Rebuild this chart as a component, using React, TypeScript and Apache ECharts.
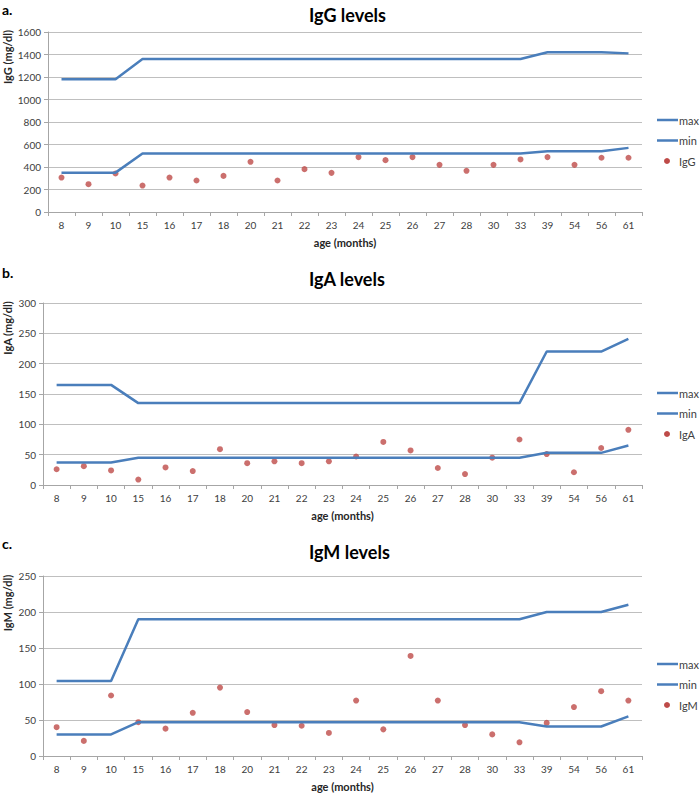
import React, { useEffect, useRef } from "react";
import * as echarts from "echarts";

const ages = ["8", "9", "10", "15", "16", "17", "18", "20", "21", "22", "23", "24", "25", "26", "27", "28", "30", "33", "39", "54", "56", "61"];

const iggMax = [1180, 1180, 1180, 1360, 1360, 1360, 1360, 1360, 1360, 1360, 1360, 1360, 1360, 1360, 1360, 1360, 1360, 1360, 1420, 1420, 1420, 1410];
const iggMin = [350, 350, 350, 520, 520, 520, 520, 520, 520, 520, 520, 520, 520, 520, 520, 520, 520, 520, 540, 540, 540, 570];
const iggVals = [306, 247, 342, 235, 306, 280, 321, 446, 280, 381, 348, 488, 461, 488, 419, 366, 419, 467, 488, 419, 482, 482];

const igaMax = [165, 165, 165, 135, 135, 135, 135, 135, 135, 135, 135, 135, 135, 135, 135, 135, 135, 135, 220, 220, 220, 241];
const igaMin = [37, 37, 37, 45, 45, 45, 45, 45, 45, 45, 45, 45, 45, 45, 45, 45, 45, 45, 53, 53, 53, 65];
const igaVals = [26, 31, 24, 9, 29, 23, 59, 36, 39, 36, 39, 47, 71, 57, 28, 18, 45, 75, 51, 21, 61, 91];

const igmMax = [104, 104, 104, 190, 190, 190, 190, 190, 190, 190, 190, 190, 190, 190, 190, 190, 190, 190, 200, 200, 200, 210];
const igmMin = [30, 30, 30, 47, 47, 47, 47, 47, 47, 47, 47, 47, 47, 47, 47, 47, 47, 47, 41, 41, 41, 55];
const igmVals = [40, 21, 84, 47, 38, 60, 95, 61, 43, 42, 32, 77, 37, 139, 77, 43, 30, 19, 46, 68, 90, 77];

const legendNames = ["max", "min"];

const panels = [
  { letter: "a.", title: "IgG levels", yName: "IgG (mg/dl)", series: "IgG", max: iggMax, min: iggMin, vals: iggVals, yMax: 1600, yInt: 200, left: 48, top: 32, height: 180, titleY: 17, letterY: 10, yNameY: 57, legendY: 120 },
  { letter: "b.", title: "IgA levels", yName: "IgA (mg/dl)", series: "IgA", max: igaMax, min: igaMin, vals: igaVals, yMax: 300, yInt: 50, left: 43, top: 303, height: 182, titleY: 281, letterY: 273, yNameY: 328, legendY: 393 },
  { letter: "c.", title: "IgM levels", yName: "IgM (mg/dl)", series: "IgM", max: igmMax, min: igmMin, vals: igmVals, yMax: 250, yInt: 50, left: 43, top: 576, height: 181, titleY: 554, letterY: 544, yNameY: 603, legendY: 664 },
];

const FONT = "Lato, 'Open Sans', sans-serif";
const BLUE = "#4a7ebb";
const RED = "#be4b48";
const TXT = "#404040";

export default function App() {
  const ref = useRef<HTMLDivElement>(null);
  useEffect(() => {
    if (!ref.current) return;
    const chart = echarts.init(ref.current, undefined, { renderer: "svg" });
    const grid: any[] = [];
    const xAxis: any[] = [];
    const yAxis: any[] = [];
    const series: any[] = [];
    const graphic: any[] = [];
    panels.forEach((p, i) => {
      grid.push({ left: p.left, width: 642 - p.left, top: p.top, height: p.height });
      xAxis.push({
        type: "category",
        gridIndex: i,
        data: ages,
        boundaryGap: true,
        axisLine: { lineStyle: { color: "#a6a6a6" } },
        axisTick: { show: true, length: 4, lineStyle: { color: "#a6a6a6" } },
        axisLabel: { fontSize: 10, color: TXT, fontFamily: FONT, margin: 8, interval: 0 },
        name: "age (months)",
        nameLocation: "middle",
        nameGap: 25,
        nameTextStyle: { fontSize: 11, fontWeight: "bold", color: "#262626", fontFamily: FONT },
      });
      yAxis.push({
        type: "value",
        gridIndex: i,
        min: 0,
        max: p.yMax,
        interval: p.yInt,
        axisLine: { show: true, lineStyle: { color: "#a6a6a6" } },
        axisTick: { show: true, length: 4, lineStyle: { color: "#a6a6a6" } },
        axisLabel: { fontSize: 10, color: TXT, fontFamily: FONT, margin: 7, formatter: (v: number) => String(v) },
        splitLine: { lineStyle: { color: "#bfbfbf", width: 1 } },
      });
      series.push({
        name: "max", type: "line", xAxisIndex: i, yAxisIndex: i, data: p.max,
        symbol: "none", lineStyle: { color: BLUE, width: 2.5 }, itemStyle: { color: BLUE },
      });
      series.push({
        name: "min", type: "line", xAxisIndex: i, yAxisIndex: i, data: p.min,
        symbol: "none", lineStyle: { color: BLUE, width: 2.5 }, itemStyle: { color: BLUE },
      });
      series.push({
        name: p.series, type: "scatter", xAxisIndex: i, yAxisIndex: i, data: p.vals,
        symbol: "circle", symbolSize: 6, itemStyle: { color: RED },
      });
      legendNames.forEach((nm, k) => {
        const y = p.legendY + k * 20.5;
        graphic.push({
          type: "line", shape: { x1: 657, y1: y, x2: 678, y2: y },
          style: { stroke: BLUE, lineWidth: 2.5 },
        });
        graphic.push({
          type: "text", x: 679, y: y,
          style: { text: nm, font: `11px ${FONT}`, fill: TXT, verticalAlign: "middle" },
        });
      });
      graphic.push({
        type: "circle", shape: { cx: 667, cy: p.legendY + 41, r: 3 },
        style: { fill: RED },
      });
      graphic.push({
        type: "text", x: 679, y: p.legendY + 41,
        style: { text: p.series, font: `11px ${FONT}`, fill: TXT, verticalAlign: "middle" },
      });
      graphic.push({
        type: "text", left: 349 - 40, top: p.titleY - 11,
        style: { text: p.title, font: `bold 18px ${FONT}`, fill: "#000" },
      });
      graphic.push({
        type: "text", x: 2, y: p.letterY - 8,
        style: { text: p.letter, font: `bold 14px ${FONT}`, fill: "#000" },
      });
      graphic.push({
        type: "text", x: 7, y: p.yNameY, rotation: Math.PI / 2,
        style: { text: p.yName, font: `bold 11px ${FONT}`, fill: "#262626", align: "center", verticalAlign: "middle" },
      });
    });
    chart.setOption({
      animation: false,
      backgroundColor: "#fff",
      grid, xAxis, yAxis, series, graphic,
    });
    return () => chart.dispose();
  }, []);
  return <div ref={ref} style={{ position: "absolute", left: 0, top: 0, width: 700, height: 793 }} />;
}
